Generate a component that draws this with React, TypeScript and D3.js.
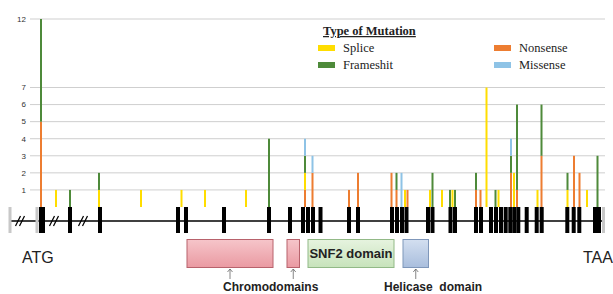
import * as d3 from 'd3'
import { useEffect, useRef } from 'react'

// mutation counts per site, gene position
const sitePos = [41, 56, 70, 99, 141, 181.5, 205, 246, 269, 305, 312.5, 349, 358, 391.5, 396.5, 401.5, 405, 407.5, 430, 432.5, 442, 450, 452.5, 455, 476, 480.5, 486.5, 495.5, 498.5, 511, 514, 517, 537.5, 541.5, 567.5, 574, 579.5, 587, 597.5]
const nonsense = [5, 0, 0, 0, 0, 0, 0, 0, 0, 1, 2, 1, 2, 2, 1, 0, 0, 1, 0, 0, 0, 0, 0, 0, 1, 1, 0, 0, 0, 2, 0, 1, 0, 3, 0, 3, 2, 0, 0]
const splice = [0, 1, 0, 1, 1, 1, 1, 1, 0, 1, 0, 0, 0, 0, 0, 0, 1, 0, 1, 0, 1, 0, 1, 0, 0, 0, 7, 0, 1, 0, 2, 0, 1, 0, 1, 0, 0, 1, 0]
const frameshift = [7, 0, 1, 1, 0, 0, 0, 0, 4, 1, 0, 0, 0, 0, 1, 0, 0, 0, 0, 2, 0, 1, 0, 1, 1, 0, 0, 1, 0, 1, 0, 5, 0, 3, 1, 0, 0, 0, 3]
const missense = [0, 0, 0, 0, 0, 0, 0, 0, 0, 1, 1, 0, 0, 0, 0, 2, 0, 0, 0, 0, 0, 0, 0, 0, 0, 0, 0, 0, 0, 1, 0, 0, 0, 0, 0, 0, 0, 0, 0]

const yTicks = [1, 2, 3, 4, 5, 6, 7, 12]

const exonStart = [39, 68, 98, 176, 184, 222, 267, 288, 301, 306, 311, 318.5, 347, 356, 390, 395, 400, 404.5, 426, 430.5, 448.5, 453, 474, 479, 489, 494, 499, 503.7, 508.3, 512.3, 516.3, 524.7, 534.7, 539.7, 565.3, 571.7, 577.3, 593]
const exonEnd = [45, 72, 102, 180, 188, 226, 271, 292, 305, 310, 315, 322.5, 351, 360, 394, 399, 404, 408.5, 430, 434.5, 452.5, 457, 478, 483, 493, 498, 503, 507.7, 512.3, 516.3, 520.3, 528.7, 538.7, 543.7, 569.3, 575.7, 581.3, 601]
const genePos = [10, 604]
const capPos = [10, 37, 603.5]
const breakPos = [21, 55, 84]

const domainNames = ['chromo1', 'chromo2', 'snf2', 'helicase']
const domainStart = [187, 287, 308, 403]
const domainEnd = [273, 299.5, 394, 428.5]

const keys = ['Nonsense', 'Splice', 'Frameshift', 'Missense']
const colors: Record<string, string> = {
  Splice: '#ffdd00',
  Frameshift: '#4e8a3a',
  Nonsense: '#ed7d31',
  Missense: '#8ec3e6',
}

const App = () => {
  const ref = useRef<SVGSVGElement>(null)

  useEffect(() => {
    const svg = d3.select(ref.current)
    svg.selectAll('*').remove()

    const x = d3.scaleLinear().domain([0, 613]).range([0, 613])
    const y = d3.scaleLinear().domain([0, 7, 12]).range([207, 87.5, 19])
    const trackY = 221

    const defs = svg.append('defs')
    const grad = (id: string, top: string, bottom: string) => {
      const g = defs.append('linearGradient').attr('id', id).attr('x1', 0).attr('y1', 0).attr('x2', 0).attr('y2', 1)
      g.append('stop').attr('offset', '0%').attr('stop-color', top)
      g.append('stop').attr('offset', '100%').attr('stop-color', bottom)
    }
    grad('pink', '#f6c5ca', '#ea9aa2')
    grad('green', '#e6f3df', '#c7e3bb')
    grad('blue', '#d3dff0', '#a9bedd')

    // grid + y ticks
    const grid = svg.append('g')
    grid
      .selectAll('line')
      .data(yTicks)
      .join('line')
      .attr('x1', 30)
      .attr('x2', 605)
      .attr('y1', (d) => y(d))
      .attr('y2', (d) => y(d))
      .attr('stroke', '#cfcfcf')
      .attr('stroke-width', 1)
    grid
      .selectAll('text')
      .data(yTicks)
      .join('text')
      .attr('x', 26)
      .attr('y', (d) => y(d))
      .attr('dy', '0.35em')
      .attr('text-anchor', 'end')
      .attr('font-family', 'Liberation Sans, Arial, sans-serif')
      .attr('font-size', 8)
      .attr('fill', '#333')
      .text((d) => d)

    // stacked mutation bars
    const rows = sitePos.map((p, i) => ({
      pos: p,
      Nonsense: nonsense[i],
      Splice: splice[i],
      Frameshift: frameshift[i],
      Missense: missense[i],
    }))
    const series = d3.stack<any>().keys(keys)(rows)
    svg
      .append('g')
      .selectAll('g')
      .data(series)
      .join('g')
      .attr('fill', (s) => colors[s.key])
      .selectAll('rect')
      .data((s) => s.filter((d) => d[1] > d[0]))
      .join('rect')
      .attr('x', (d) => x(d.data.pos) - 1)
      .attr('width', 2)
      .attr('y', (d) => y(d[1]))
      .attr('height', (d) => y(d[0]) - y(d[1]))

    // gene track
    const track = svg.append('g')
    track
      .append('line')
      .attr('x1', x(genePos[0]))
      .attr('x2', x(genePos[1]))
      .attr('y1', trackY)
      .attr('y2', trackY)
      .attr('stroke', '#000')
      .attr('stroke-width', 1.5)
    track
      .selectAll('rect.cap')
      .data(capPos)
      .join('rect')
      .attr('class', 'cap')
      .attr('x', (d) => x(d) - 1.5)
      .attr('width', 3)
      .attr('y', 207)
      .attr('height', 26)
      .attr('fill', '#c8c8c8')
    track
      .selectAll('rect.exon')
      .data(exonStart)
      .join('rect')
      .attr('class', 'exon')
      .attr('x', (d) => x(d))
      .attr('width', (d, i) => x(exonEnd[i]) - x(d))
      .attr('y', 207)
      .attr('height', 26)
      .attr('fill', '#000')
    const brk = track.selectAll('g.brk').data(breakPos).join('g').attr('class', 'brk')
    ;[-2.5, 1.5].forEach((o) => {
      brk
        .append('line')
        .attr('x1', (d) => x(d) + o - 3)
        .attr('y1', trackY + 5)
        .attr('x2', (d) => x(d) + o + 2)
        .attr('y2', trackY - 5)
        .attr('stroke', '#000')
        .attr('stroke-width', 1.2)
    })

    const sans = 'Liberation Sans, Arial, sans-serif'
    svg.append('text').attr('x', 22).attr('y', 263).attr('font-family', sans).attr('font-size', 16).attr('fill', '#222').text('ATG')
    svg.append('text').attr('x', 583).attr('y', 263).attr('font-family', sans).attr('font-size', 16).attr('fill', '#222').text('TAA')

    // protein domains
    const fills = ['url(#pink)', 'url(#pink)', 'url(#green)', 'url(#blue)']
    const strokes = ['#b8626c', '#b8626c', '#92b987', '#7f97ba']
    svg
      .append('g')
      .selectAll('rect')
      .data(domainNames)
      .join('rect')
      .attr('x', (d, i) => x(domainStart[i]))
      .attr('width', (d, i) => x(domainEnd[i]) - x(domainStart[i]))
      .attr('y', 239.5)
      .attr('height', 28)
      .attr('fill', (d, i) => fills[i])
      .attr('stroke', (d, i) => strokes[i])
      .attr('stroke-width', 1)
    svg
      .append('text')
      .attr('x', x((domainStart[2] + domainEnd[2]) / 2))
      .attr('y', 258)
      .attr('text-anchor', 'middle')
      .attr('font-family', sans)
      .attr('font-weight', 'bold')
      .attr('font-size', 13)
      .attr('fill', '#222')
      .text('SNF2 domain')

    // arrows to labels
    const arrowAt = [
      (domainStart[0] + domainEnd[0]) / 2,
      (domainStart[1] + domainEnd[1]) / 2,
      (domainStart[3] + domainEnd[3]) / 2,
    ]
    const arr = svg.append('g').attr('stroke', '#666').attr('stroke-width', 0.8).attr('fill', 'none')
    arrowAt.forEach((p) => {
      arr.append('line').attr('x1', x(p)).attr('x2', x(p)).attr('y1', 269).attr('y2', 279)
      arr
        .append('path')
        .attr('d', `M${x(p) - 2.5},${272} L${x(p)},${269} L${x(p) + 2.5},${272}`)
    })
    svg
      .append('text')
      .attr('x', 223)
      .attr('y', 291)
      .attr('font-family', sans)
      .attr('font-weight', 'bold')
      .attr('font-size', 12)
      .attr('fill', '#222')
      .text('Chromodomains')
    svg
      .append('text')
      .attr('x', 384)
      .attr('y', 291)
      .attr('font-family', sans)
      .attr('font-weight', 'bold')
      .attr('font-size', 12)
      .attr('fill', '#222')
      .style('white-space', 'pre')
      .text('Helicase  domain')

    // legend
    const serif = 'Liberation Serif, Times New Roman, serif'
    const lg = svg.append('g')
    lg.append('text')
      .attr('x', 323)
      .attr('y', 35)
      .attr('font-family', serif)
      .attr('font-weight', 'bold')
      .attr('font-size', 12.5)
      .attr('text-decoration', 'underline')
      .attr('fill', '#222')
      .text('Type of Mutation')
    const legendItems = ['Splice', 'Nonsense', 'Frameshift', 'Missense']
    const legendLabels = ['Splice', 'Nonsense', 'Frameshit', 'Missense']
    const item = lg
      .selectAll('g.item')
      .data(legendItems)
      .join('g')
      .attr('class', 'item')
      .attr('transform', (d, i) => `translate(${i % 2 === 0 ? 318 : 494},${i < 2 ? 45 : 62})`)
    item.append('rect').attr('width', 17).attr('height', 6).attr('fill', (d) => colors[d])
    item
      .append('text')
      .attr('x', 25)
      .attr('y', 3)
      .attr('dy', '0.35em')
      .attr('font-family', serif)
      .attr('font-size', 12.5)
      .attr('fill', '#222')
      .text((d, i) => legendLabels[i])
  }, [])

  return (
    <svg
      ref={ref}
      width={613}
      height={294}
      style={{ position: 'absolute', left: 0, top: 0, background: '#fff' }}
    />
  )
}

export default App
